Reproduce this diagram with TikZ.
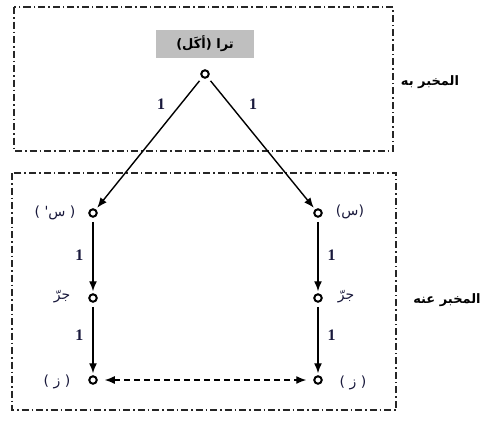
\documentclass[tikz,border=0pt]{standalone}
\usepackage{fontspec}
\setmainfont{Liberation Serif}
\newfontfamily\arabicfont[Script=Arabic]{DejaVu Sans}
\TeXXeTstate=1
\usetikzlibrary{arrows.meta}
\definecolor{navy}{RGB}{25,25,60}
\tikzset{
  dot/.style={circle,draw=black,line width=2pt,fill=white,inner sep=0pt,minimum size=7.5pt},
  frame/.style={draw=black!85,line width=1.3pt,dash pattern=on 7pt off 3pt on 1.5pt off 3pt},
  arr/.style={-{Latex[length=10pt,width=8pt]},line width=1.4pt,shorten >=2pt,shorten <=4pt},
  darr/.style={{Latex[length=10pt,width=8pt]}-{Latex[length=10pt,width=8pt]},line width=1.3pt,dash pattern=on 6pt off 4pt,shorten >=7pt,shorten <=7pt},
  num/.style={font=\bfseries\fontsize{16}{18}\selectfont,text=navy,inner sep=1pt},
  ar/.style={font=\arabicfont\fontsize{14}{16}\selectfont,text=navy,inner sep=1pt},
  side/.style={font=\arabicfont\bfseries\fontsize{13}{15}\selectfont,text=black,inner sep=1pt}
}
\begin{document}
\begin{tikzpicture}[x=1pt,y=-1pt]
\useasboundingbox (0,0) rectangle (484,421);
% frames
\draw[frame] (14,7) rectangle (393,151);
\draw[frame] (12,173) rectangle (396,410);
% top label
\node[fill=black!25,minimum width=98pt,minimum height=28pt,side] (toplbl) at (205,44) {\beginR ترا (أكَل)\endR};
% dots
\node[dot] (t) at (205,74) {};
\node[dot] (l1) at (93,213) {};
\node[dot] (r1) at (318,213) {};
\node[dot] (l2) at (93,298) {};
\node[dot] (r2) at (318,298) {};
\node[dot] (l3) at (93,380) {};
\node[dot] (r3) at (318,380) {};
% arrows
\draw[arr] (t) -- (l1) node[num,pos=0.2,left=14pt] {1};
\draw[arr] (t) -- (r1) node[num,pos=0.2,right=18pt] {1};
\draw[arr] (l1) -- (l2) node[num,midway,left=8pt] {1};
\draw[arr] (r1) -- (r2) node[num,midway,right=8pt] {1};
\draw[arr] (l2) -- (l3) node[num,pos=0.45,left=8pt] {1};
\draw[arr] (r2) -- (r3) node[num,pos=0.45,right=8pt] {1};
\draw[darr] (l3) -- (r3);
% labels
\node[ar] (sl) at (55,213) {\beginR( س' )\endR};
\node[ar] (sr) at (350,212) {\beginR(س)\endR};
\node[ar] (jl) at (62,297) {جرّ};
\node[ar] (jr) at (346,297) {جرّ};
\node[ar] (zl) at (57,382) {\beginR( ز )\endR};
\node[ar] (zr) at (353,383) {\beginR( ز )\endR};
\node[side] (mb) at (430,82) {\beginR المخبر به\endR};
\node[side] (ma) at (447,300) {\beginR المخبر عنه\endR};
\end{tikzpicture}
\end{document}
